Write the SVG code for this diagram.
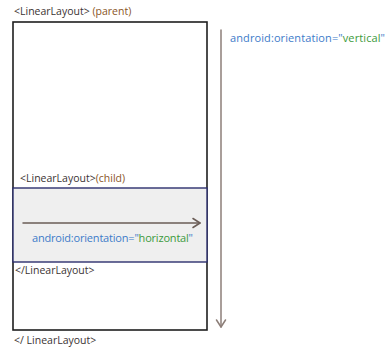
<svg xmlns="http://www.w3.org/2000/svg" width="389" height="347" viewBox="0 0 389 347">
  <defs>
    <style>
      text { font-family: "Open Sans", "Liberation Sans", sans-serif; font-size: 10.5px; }
      .wide { font-size: 11px; }
      .tag { fill: #3b3333; }
      .note { fill: #8a5526; }
      .attr { fill: #3d7bc9; }
      .val { fill: #3c9a3c; }
      .outer { fill: #ffffff; stroke: #1e1e1e; stroke-width: 1.6; }
      .inner { fill: #efefef; stroke: #2d2f6e; stroke-width: 1.4; }
      .flow { fill: none; stroke-linecap: round; stroke-linejoin: round; }
    </style>
  </defs>
  <rect width="389" height="347" fill="#ffffff"/>

  <g id="parent">
    <rect class="outer" x="13" y="22" width="194" height="308"/>
    <text class="tag" x="14" y="15">&lt;LinearLayout&gt; <tspan class="note">(parent)</tspan></text>
    <text class="tag" x="14" y="344">&lt;/ LinearLayout&gt;</text>
  </g>

  <g id="child">
    <rect class="inner" x="13" y="188" width="194" height="74"/>
    <text class="tag" x="20" y="182">&lt;LinearLayout&gt;<tspan class="note">(child)</tspan></text>
    <text class="tag" x="15" y="274">&lt;/LinearLayout&gt;</text>
  </g>

  <g id="connectors">
    <g class="flow" stroke="#6b5d57" stroke-width="1.5">
      <path d="M23 223 L200 223"/>
      <path d="M193 218.5 L200 223 L193 227.5"/>
    </g>
    <g class="flow" stroke="#8c7e78" stroke-width="1.5">
      <path d="M221 30 L221 327"/>
      <path d="M216.5 320 L221 327 L225.5 320"/>
    </g>
  </g>

  <g id="labels">
    <text class="wide" x="32" y="242" textLength="161" lengthAdjust="spacing"><tspan class="attr">android:orientation="</tspan><tspan class="val">horizontal</tspan><tspan class="attr">"</tspan></text>
    <text class="wide" x="230" y="42" textLength="155" lengthAdjust="spacing"><tspan class="attr">android:orientation="</tspan><tspan class="val">vertical</tspan><tspan class="attr">"</tspan></text>
  </g>
</svg>
